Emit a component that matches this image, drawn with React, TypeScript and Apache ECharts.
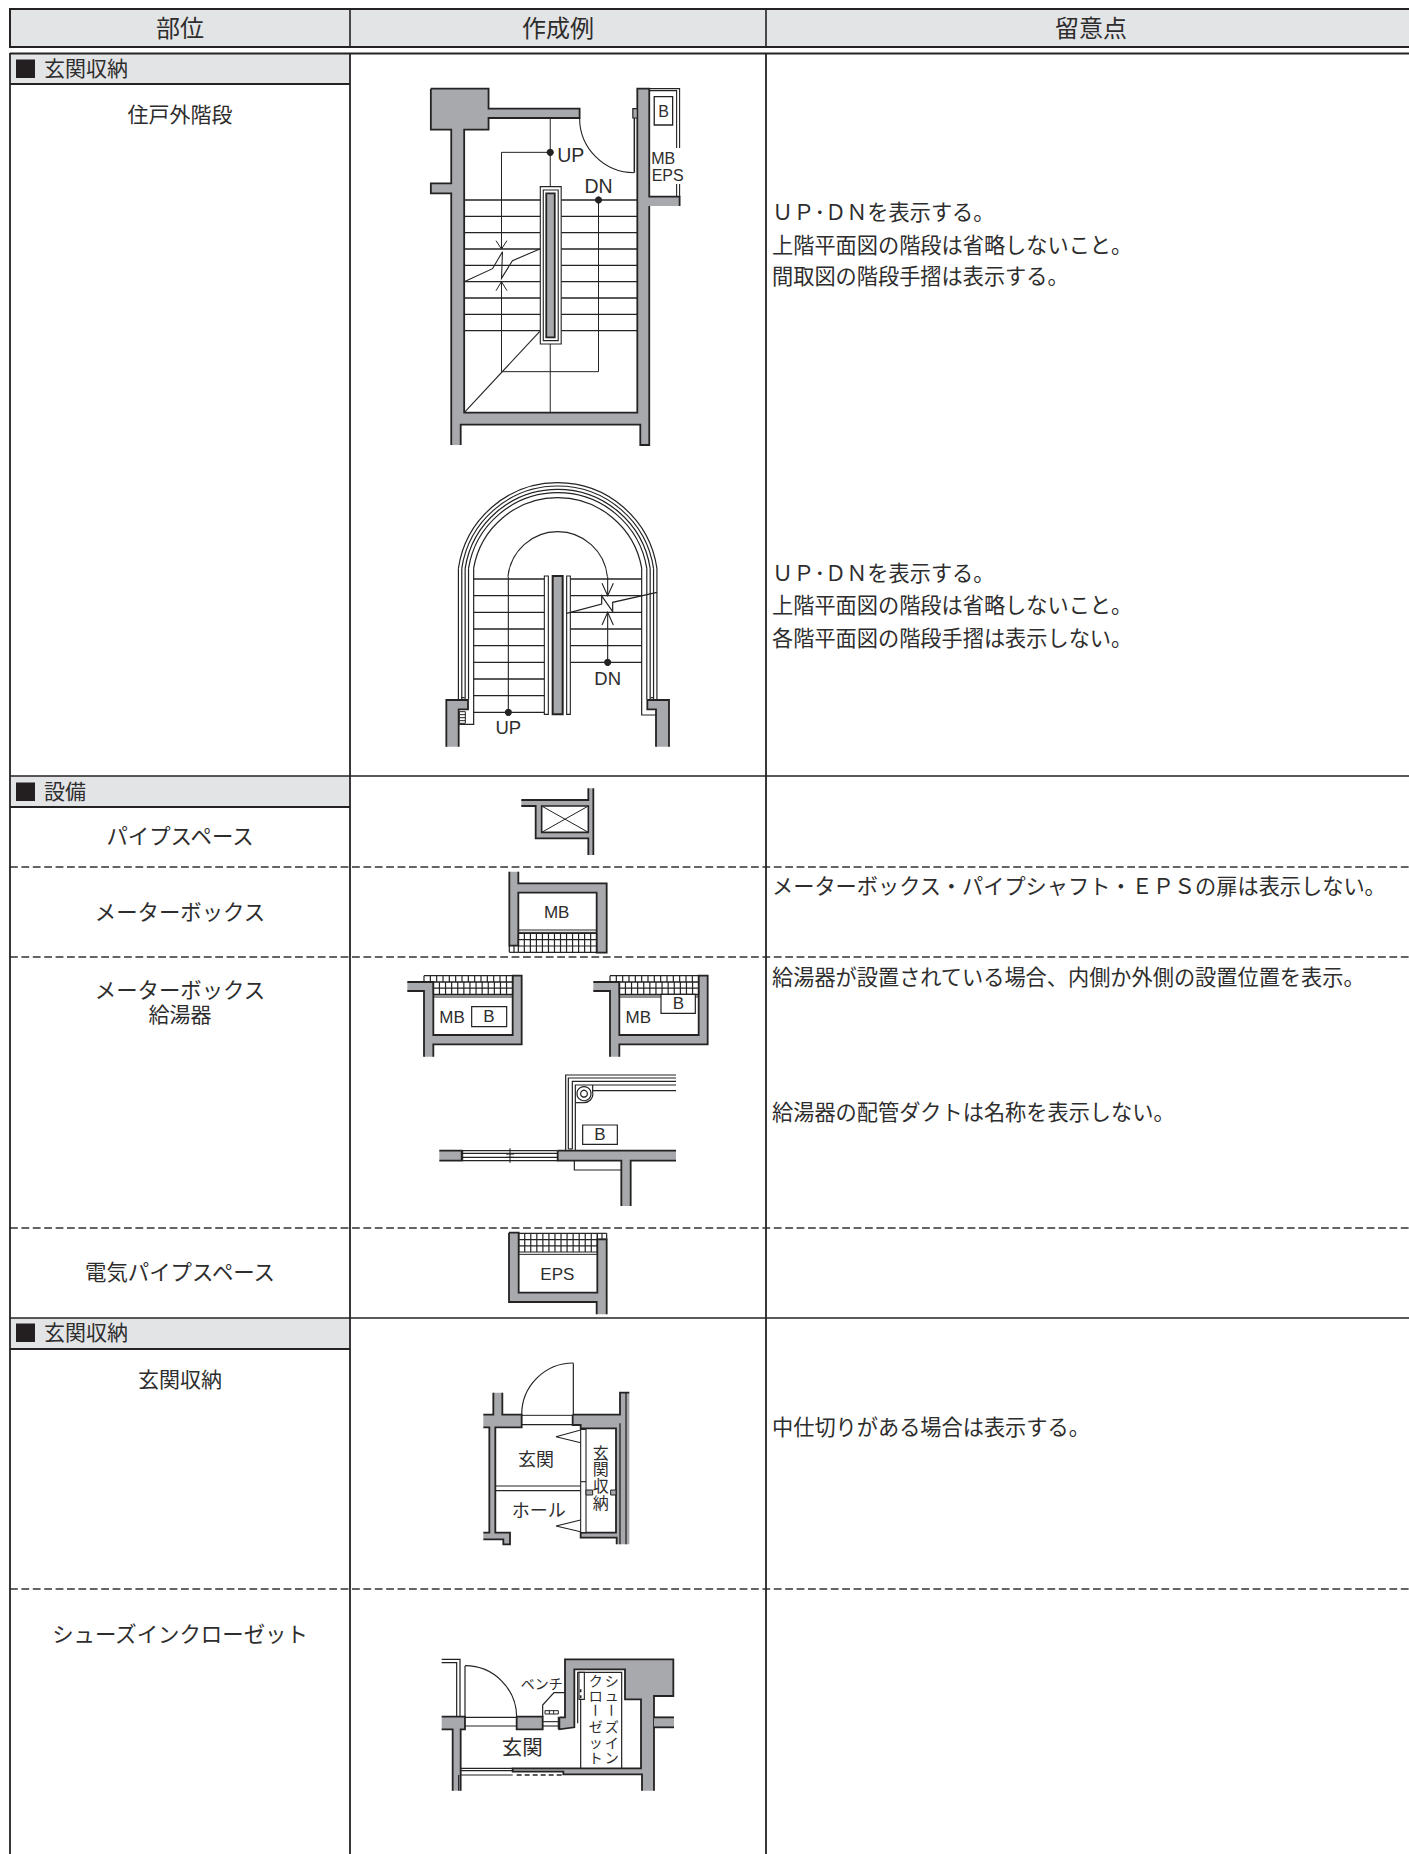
import React, { useEffect, useRef } from "react";
import * as echarts from "echarts";

const headers = ["部位", "作成例", "留意点"];
const sections = ["玄関収納", "設備", "玄関収納"];
const rowLabels = ["住戸外階段", "パイプスペース", "メーターボックス", "メーターボックス", "給湯器", "電気パイプスペース", "玄関収納", "シューズインクローゼット"];
const notesStairA = ["ＵＰ･ＤＮを表示する。", "上階平面図の階段は省略しないこと。", "間取図の階段手摺は表示する。"];
const notesStairB = ["ＵＰ･ＤＮを表示する。", "上階平面図の階段は省略しないこと。", "各階平面図の階段手摺は表示しない。"];
const notesEquip = ["メーターボックス・パイプシャフト・ＥＰＳの扉は表示しない。", "給湯器が設置されている場合、内側か外側の設置位置を表示。", "給湯器の配管ダクトは名称を表示しない。"];
const notesEntry = ["中仕切りがある場合は表示する。"];
const shoeCol1 = ["シ", "ュ", "ー", "ズ", "イ", "ン"];
const shoeCol2 = ["ク", "ロ", "ー", "ゼ", "ッ", "ト"];
const closetChars = ["玄", "関", "収", "納"];

const INK = "#242222";
const WALL = "#a7a9ac";
const HEAD = "#e3e4e6";
const CJK = '"Noto Sans CJK JP", sans-serif';
const LAT = '"Liberation Sans", Arial, sans-serif';
const PI = Math.PI;

function makePen(els: any[], ox: number, oy: number, sx: number, sy: number = sx) {
  const X = (v: number) => ox + v / sx;
  const Y = (v: number) => oy + v / sy;
  const pts = (p: number[][]) => p.map(([a, b]) => [X(a), Y(b)]);
  const pen = {
    line(x1: number, y1: number, x2: number, y2: number, w = 1, c = INK, dash?: number[]) {
      els.push({ type: "line", silent: true, shape: { x1: X(x1), y1: Y(y1), x2: X(x2), y2: Y(y2) }, style: { stroke: c, lineWidth: w, lineDash: dash } });
    },
    poly(p: number[][], w = 1, c = INK) {
      els.push({ type: "polyline", silent: true, shape: { points: pts(p) }, style: { stroke: c, lineWidth: w, fill: "none" } });
    },
    fill(p: number[][], f: string) {
      els.push({ type: "polygon", silent: true, shape: { points: pts(p) }, style: { fill: f, stroke: "none" } });
    },
    wall(p: number[][], skip: number[] = [], w = 1.8) {
      pen.fill(p, WALL);
      let run: number[][] = [p[0]];
      for (let i = 0; i < p.length; i++) {
        const n = p[(i + 1) % p.length];
        if (skip.includes(i)) {
          if (run.length > 1) pen.poly(run, w);
          run = [n];
        } else run.push(n);
      }
      if (run.length > 1) pen.poly(run, w);
    },
    rect(x1: number, y1: number, x2: number, y2: number, fill = "#fff", w = 1, stroke = INK) {
      els.push({ type: "rect", silent: true, shape: { x: X(x1), y: Y(y1), width: (x2 - x1) / sx, height: (y2 - y1) / sy }, style: { fill, stroke, lineWidth: w } });
    },
    dot(x: number, y: number, r = 3.6) {
      els.push({ type: "circle", silent: true, shape: { cx: X(x), cy: Y(y), r }, style: { fill: INK, stroke: "none" } });
    },
    ring(x: number, y: number, r: number, w = 1) {
      els.push({ type: "circle", silent: true, shape: { cx: X(x), cy: Y(y), r }, style: { fill: "#fff", stroke: INK, lineWidth: w } });
    },
    arc(cx: number, cy: number, r: number, a0: number, a1: number, w = 1) {
      els.push({ type: "arc", silent: true, shape: { cx: X(cx), cy: Y(cy), r: r / sx, startAngle: a0, endAngle: a1, clockwise: true }, style: { stroke: INK, lineWidth: w, fill: "none" } });
    },
    text(t: string, x: number, y: number, size: number, font = LAT, align = "center", rotation = 0, c = "#2e2d2d", lineHeight?: number) {
      els.push({
        type: "text", silent: true, x: X(x), y: Y(y) - (font === CJK ? 1.5 : 0), rotation,
        style: { text: t, fontSize: size, fontFamily: font, fill: c, align, verticalAlign: "middle", lineHeight },
      });
    },
    grid(x1: number, x2: number, y1: number, y2: number, cols: number, rows: number, w = 1.2) {
      for (let i = 0; i <= cols; i++) {
        const x = x1 + ((x2 - x1) * i) / cols;
        pen.line(x, y1, x, y2, w);
      }
      for (let j = 0; j <= rows; j++) {
        const y = y1 + ((y2 - y1) * j) / rows;
        pen.line(x1, y, x2, y, w);
      }
    },
  };
  return pen;
}

function drawTable(els: any[]) {
  const p = makePen(els, 0, 0, 1);
  const R = 1409, L = 10, C1 = 350, C2 = 766, B = 1854;
  p.rect(L, 9, R + 5, 47, HEAD, 2);
  p.line(C1, 9, C1, 47, 1.6);
  p.line(C2, 9, C2, 47, 1.6);
  [[10, 54, 350, 84], [10, 776, 350, 807], [10, 1318, 350, 1349]].forEach((r) => p.rect(r[0], r[1], r[2], r[3], HEAD, 0, "none"));
  p.line(L, 53.5, R, 53.5, 2);
  p.line(L, 84, C1, 84, 1.8);
  p.line(L, 776, R, 776, 1.6);
  p.line(L, 807, C1, 807, 1.8);
  p.line(L, 1318, R, 1318, 1.6);
  p.line(L, 1349, C1, 1349, 1.8);
  [867, 957, 1228, 1589].forEach((y) => p.line(L, y, R, y, 1.4, "#333", [7.8, 3.6]));
  [L, C1, C2].forEach((x) => p.line(x, 53, x, B, 1.8));

  p.text(headers[0], 180, 27.5, 24, CJK);
  p.text(headers[1], 558, 27.5, 24, CJK);
  p.text(headers[2], 1091, 27.5, 24, CJK);

  [[69, 59.5], [791.5, 782.5], [1333, 1323.5]].forEach(([cy, top], i) => {
    els.push({ type: "rect", silent: true, shape: { x: 16, y: top, width: 19, height: 18.5 }, style: { fill: "#231f20" } });
    p.text(sections[i], 44, cy - 0.5, 21, CJK, "left");
  });

  const rows = [114, 836, 912, 990, 1014, 1272, 1379, 1634];
  rowLabels.forEach((t, i) => p.text(t, 180, rows[i], i === 0 || i === 4 || i === 6 ? 21 : 21.4, CJK));

  const note = (arr: string[], ys: number[]) => arr.forEach((t, i) => p.text(t, 772, ys[i], 21.2, CJK, "left"));
  note(notesStairA, [212, 244.5, 276]);
  note(notesStairB, [573, 605, 638]);
  note(notesEquip, [886, 977, 1112]);
  note(notesEntry, [1427]);
}

function drawStairA(els: any[]) {
  const p = makePen(els, 0, 0, 2.01, 3);
  p.wall([[866, 266], [982, 266], [982, 326], [1165, 326], [1165, 354], [982, 354], [982, 389], [933, 389], [933, 1238], [1281, 1238], [1281, 266], [1305, 266], [1305, 590], [1366, 590], [1366, 618], [1305, 618], [1305, 1335], [1287, 1335], [1287, 1274], [926, 1274], [926, 1335], [907, 1335], [907, 580], [866, 580], [866, 550], [907, 550], [907, 389], [866, 389]], [14, 20]);
  p.rect(1272, 326, 1281, 354, WALL, 1.2);
  // meter box frame
  p.poly([[1305, 266], [1366, 266], [1366, 590]], 1.1);
  p.poly([[1305, 272], [1360, 272], [1360, 590]], 1.1);
  p.rect(1315, 290, 1352, 375, "#fff", 1.3);
  p.text("B", 1334, 333, 16);
  els.push({ type: "rect", silent: true, shape: { x: 1310 / 2.01, y: 148, width: 34, height: 36 }, style: { fill: "#fff" } });
  p.text("MB", 1333, 476, 16);
  p.text("EPS", 1342, 527, 16);
  // door
  p.arc(1275, 354, 110, PI / 2, PI, 1.1);
  p.line(1275, 354, 1275, 518, 1.5);
  // treads
  [600, 649, 698, 747, 796, 845, 894, 943, 992].forEach((y) => {
    p.line(933, y, 1086, y, 1.4);
    p.line(1128, y, 1281, y, 1.4);
  });
  // handrail
  p.rect(1086, 560, 1128, 1032, "#fff", 1.1);
  p.rect(1092, 570, 1122, 1022, "#fff", 1.1);
  p.rect(1098, 580, 1115, 1012, WALL, 1.8);
  // walking line
  p.line(1106, 354, 1106, 560, 1);
  p.line(1106, 1032, 1106, 1238, 1);
  p.poly([[1106, 457], [1008, 457], [1008, 747]], 1);
  p.poly([[1008, 845], [1008, 1115], [1203, 1115], [1203, 600]], 1);
  p.dot(1106, 457);
  p.dot(1203, 600);
  p.poly([[997, 722], [1008, 747], [1019, 722]], 1);
  p.poly([[997, 872], [1008, 845], [1019, 872]], 1);
  p.poly([[933, 845], [990, 806], [1010, 755], [1008, 835], [1030, 782], [1085, 747]], 1.1);
  p.line(933, 1238, 1085, 994, 1.1);
  p.text("UP", 1120, 466, 19.5, LAT, "left");
  p.text("DN", 1203, 558, 19.5);
}

function drawStairB(els: any[]) {
  const p = makePen(els, 400, 460, 3);
  const cx = 473, cy = 369, dy = 44;
  const offs = [0, 10, 20, 30, 45];
  offs.forEach((o, i) => {
    const R = 301 - o;
    const a = Math.asin(dy / R);
    p.arc(cx, cy, R, PI + a, 2 * PI - a, 1.2);
    const hw = Math.sqrt(R * R - dy * dy);
    if (i < 4) {
      p.line(cx - hw, 325, cx - hw, 718, 1.2);
      p.line(cx + hw, 325, cx + hw, 718, 1.2);
    }
  });
  p.line(184, 713, 194, 713, 1.2);
  p.line(752, 713, 762, 713, 1.2);
  p.poly([[221, 325], [221, 793], [176, 793]], 1.2);
  p.poly([[725, 325], [725, 765], [770, 765]], 1.2);
  // inner walking arc
  const a2 = Math.asin(15 / 150);
  p.arc(cx, 365, 150, PI + a2, 2 * PI - a2, 1.1);
  [357, 407, 457, 507, 557, 607, 657, 707, 757].forEach((y) => p.line(221, y, 433, y, 1.3));
  [357, 407, 457, 507, 557, 607].forEach((y) => p.line(511, y, 725, y, 1.3));
  p.rect(433, 348, 445, 763, "#fff", 1.1);
  p.rect(500, 348, 511, 763, "#fff", 1.1);
  p.rect(458, 348, 488, 763, WALL, 2);
  p.line(325, 350, 325, 757, 1.1);
  p.dot(325, 757);
  p.line(623, 350, 623, 407, 1.1);
  p.line(623, 457, 623, 607, 1.1);
  p.dot(623, 607);
  p.poly([[606, 370], [623, 407], [640, 370]], 1.1);
  p.poly([[606, 495], [623, 457], [640, 495]], 1.1);
  p.poly([[500, 460], [605, 432], [605, 408], [638, 455], [638, 427], [771, 397]], 1.2);
  p.text("UP", 325, 803, 18.5);
  p.text("DN", 623, 654, 18.5);
  p.wall([[139, 860], [139, 720], [204, 720], [204, 748], [176, 748], [176, 860]], [5]);
  p.wall([[768, 860], [768, 748], [742, 748], [742, 720], [807, 720], [807, 860]], [5]);
  p.rect(178, 755, 196, 790, "#fff", 1);
  [764, 773, 782].forEach((y) => p.line(178, y, 196, y, 1));
}

function drawEquip(els: any[]) {
  const p = makePen(els, 380, 770, 3);
  // pipe space
  p.wall([[424, 90], [625, 90], [625, 55], [640, 55], [640, 255], [625, 255], [625, 205], [467, 205], [467, 108], [424, 108]], [2, 4, 9]);
  p.rect(485, 108, 625, 187, "#fff", 1.6);
  p.line(485, 108, 625, 187, 1);
  p.line(485, 187, 625, 108, 1);
  // meter box
  p.wall([[388, 305], [415, 305], [415, 340], [680, 340], [680, 548], [650, 548], [650, 368], [415, 368], [415, 527], [388, 527]], [0]);
  p.line(415, 480, 650, 480, 1);
  p.line(415, 487, 650, 487, 1);
  p.grid(415, 650, 490, 547, 13, 3);
  p.line(388, 527, 388, 547, 1.2);
  p.line(388, 547, 415, 547, 1.2);
  p.line(402, 527, 402, 547, 1.2);
  p.text("MB", 530, 427, 17);
  // meter box with heater, twice
  [0, 558].forEach((dx, i) => {
    p.wall([[82 + dx, 636], [160 + dx, 636], [160 + dx, 795], [398 + dx, 795], [398 + dx, 617], [425 + dx, 617], [425 + dx, 823], [160 + dx, 823], [160 + dx, 860], [132 + dx, 860], [132 + dx, 663], [82 + dx, 663]], [8, 11]);
    p.line(160 + dx, 675, 398 + dx, 675, 1);
    p.line(160 + dx, 681, 398 + dx, 681, 1);
    p.grid(160 + dx, 398 + dx, 636, 673, 13, 2);
    p.grid(132 + dx, 398 + dx, 617, 636, 14, 1);
    p.text("MB", i === 0 ? 216 : 775, 742, 17);
  });
  p.rect(275, 710, 380, 770, "#fff", 1.2);
  p.text("B", 327, 740, 17);
  p.rect(843, 673, 946, 730, "#fff", 1.2);
  p.text("B", 895, 700, 17);
}

function drawHeater(els: any[]) {
  const p = makePen(els, 400, 1050, 3);
  p.wall([[118, 302], [185, 302], [185, 332], [118, 332]], [3]);
  [302, 310, 322, 332].forEach((y) => p.line(185, y, 473, y, 1.1));
  p.line(188, 302, 188, 332, 1.1);
  p.line(330, 295, 330, 338, 1.1);
  p.line(318, 312, 342, 312, 1.1);
  p.line(318, 322, 342, 322, 1.1);
  p.wall([[473, 302], [828, 302], [828, 332], [692, 332], [692, 468], [664, 468], [664, 332], [473, 332]], [1, 4]);
  p.poly([[523, 332], [523, 360], [664, 360]], 1.2);
  // duct lines
  p.poly([[497, 300], [497, 75], [828, 75]], 1.2);
  p.poly([[505, 297], [505, 84], [828, 84]], 1.2);
  p.poly([[517, 297], [517, 94], [828, 94]], 1.2);
  p.poly([[526, 300], [526, 105], [828, 105]], 1.2);
  p.line(505, 297, 517, 297, 1.2);
  p.line(578, 122, 828, 122, 1.2);
  p.arc(552, 131, 27, 0, PI / 2, 1.2);
  p.line(526, 158, 552, 158, 1.2);
  p.line(578, 105, 578, 131, 1.2);
  p.ring(552, 131, 7, 1.2);
  p.ring(552, 131, 3.4, 1.2);
  p.rect(548, 225, 652, 283, "#fff", 1.2);
  p.text("B", 600, 253, 17);
  // EPS
  p.wall([[327, 548], [356, 548], [356, 728], [592, 728], [592, 568], [620, 568], [620, 793], [590, 793], [590, 756], [327, 756]], [6]);
  p.grid(356, 592, 550, 606, 13, 3);
  p.grid(592, 620, 550, 568, 2, 1);
  p.line(356, 613, 592, 613, 1);
  p.text("EPS", 472, 674, 17);
}

function drawEntry(els: any[]) {
  const p = makePen(els, 440, 1340, 3);
  p.wall([[130, 224], [160, 224], [160, 158], [187, 158], [187, 224], [245, 224], [245, 262], [166, 262], [166, 578], [210, 578], [210, 613], [190, 613], [190, 598], [130, 598], [130, 578], [148, 578], [148, 262], [130, 262]], [2, 13, 17]);
  p.wall([[398, 224], [540, 224], [540, 158], [568, 158], [568, 613], [530, 613], [530, 593], [422, 593], [422, 578], [528, 578], [528, 265], [422, 265], [422, 255], [398, 255]], [3, 4]);
  p.line(540, 250, 540, 613, 1.3);
  p.line(558, 158, 558, 613, 1.3);
  p.line(245, 226, 398, 226, 1);
  p.line(245, 254, 398, 254, 1.2);
  p.arc(400, 224, 155, PI, 1.5 * PI, 1.2);
  p.line(400, 70, 400, 224, 1.2);
  p.line(166, 438, 422, 438, 1.1);
  p.line(166, 452, 422, 452, 1.1);
  p.rect(422, 268, 438, 578, "#fff", 1.1);
  p.line(422, 425, 438, 425, 1.1);
  p.poly([[422, 270], [348, 290], [422, 308]], 1.1);
  p.poly([[422, 540], [348, 558], [422, 575]], 1.1);
  p.rect(438, 450, 458, 465, WALL, 1);
  p.rect(512, 450, 528, 465, WALL, 1);
  p.text("玄関", 288, 358, 18, CJK);
  p.text("ホール", 296, 510, 18, CJK);
  p.text(closetChars.join("\n"), 482, 415, 16, CJK, "center", 0, "#2e2d2d", 16.7);
}

function drawShoe(els: any[]) {
  const p = makePen(els, 430, 1640, 3);
  p.poly([[35, 58], [90, 58], [90, 230]], 1.2);
  p.poly([[35, 68], [80, 68], [80, 230]], 1.2);
  p.wall([[35, 230], [105, 230], [105, 268], [92, 268], [92, 388], [92, 452], [68, 452], [68, 268], [35, 268]], [5, 8]);
  p.line(105, 78, 105, 232, 1.2);
  p.arc(105, 232, 155, 1.5 * PI, 2 * PI, 1.2);
  p.line(105, 232, 260, 232, 1.1);
  p.line(105, 258, 260, 258, 1.1);
  p.wall([[260, 230], [338, 230], [338, 268], [260, 268]]);
  p.poly([[338, 230], [338, 195], [372, 158], [405, 158]], 1.2);
  p.line(385, 230, 385, 268, 1.2);
  p.rect(345, 212, 385, 222, "#fff", 1);
  p.line(358, 212, 358, 222, 1);
  p.line(371, 212, 371, 222, 1);
  p.line(338, 245, 385, 245, 1.1);
  p.line(338, 258, 385, 258, 1.1);
  p.wall([[388, 232], [405, 232], [405, 58], [730, 58], [730, 168], [672, 168], [672, 452], [636, 452], [636, 403], [400, 403], [400, 395], [248, 395], [248, 385], [633, 385], [633, 178], [585, 178], [585, 88], [433, 88], [433, 262], [388, 268]], [6]);
  p.wall([[672, 232], [732, 232], [732, 262], [672, 262]], [1, 3]);
  p.poly([[443, 250], [443, 97], [575, 97], [575, 385]], 1.2);
  p.rect(447, 97, 463, 178, "#fff", 1.1);
  p.line(452, 180, 452, 385, 1.2);
  p.line(452, 148, 452, 180, 1.6, INK, [3, 3]);
  p.line(92, 385, 248, 385, 1.2);
  p.line(92, 392, 248, 392, 1.2);
  p.line(92, 405, 248, 405, 1.2);
  p.line(86, 405, 86, 452, 1.2);
  p.line(260, 405, 400, 405, 1.6, INK, [5, 3]);
  p.text("玄関", 277, 323, 20.5, CJK);
  p.text("ベンチ", 335, 133, 14, CJK);
  const column = (chars: string[], x: number) => {
    p.text(chars.slice(0, 2).join("\n"), x, 147.5, 14, CJK, "center", 0, "#2e2d2d", 15);
    p.text(chars[2], x, 215, 14, CJK, "center", -PI / 2);
    p.text(chars.slice(3).join("\n"), x, 309, 14, CJK, "center", 0, "#2e2d2d", 15.5);
  };
  column(shoeCol1, 545);
  column(shoeCol2, 497);
}

export default function App() {
  const ref = useRef<HTMLDivElement>(null);
  useEffect(() => {
    document.body.style.margin = "0";
    const chart = echarts.init(ref.current!, null, { renderer: "svg" });
    const els: any[] = [];
    drawTable(els);
    drawStairA(els);
    drawStairB(els);
    drawEquip(els);
    drawHeater(els);
    drawEntry(els);
    drawShoe(els);
    chart.setOption({ animation: false, backgroundColor: "#fff", graphic: { elements: els } });
    return () => chart.dispose();
  }, []);
  return <div ref={ref} style={{ width: 1409, height: 1854 }} />;
}
